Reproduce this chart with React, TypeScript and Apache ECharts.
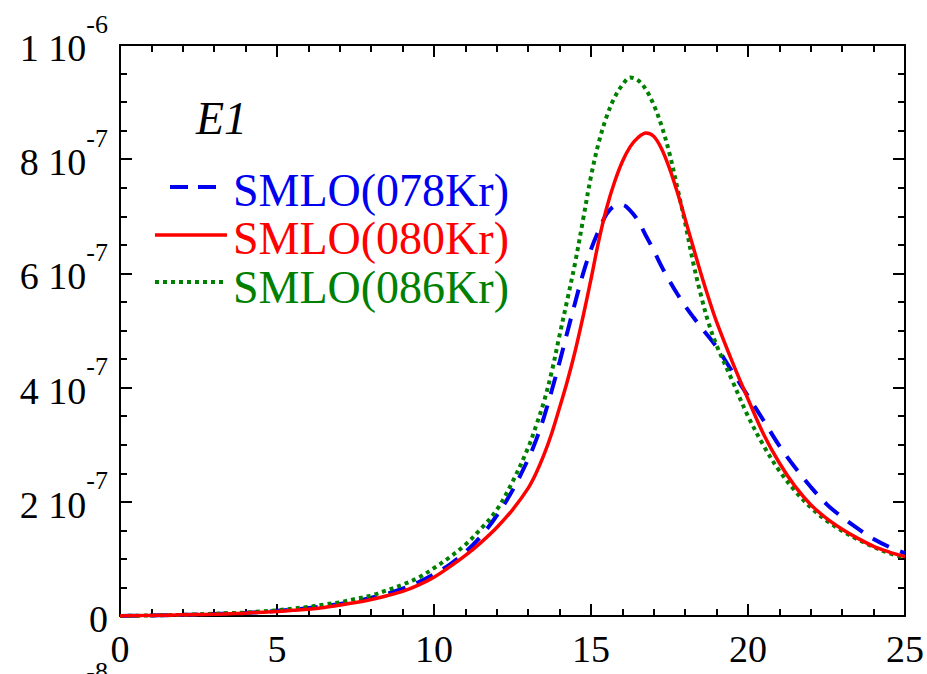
import React, { useEffect, useRef } from "react";
import * as echarts from "echarts";

// Photon energy (MeV)
const energies = [0, 0.5, 1, 1.5, 2, 2.5, 3, 3.5, 4, 4.5, 5, 5.5, 6, 6.5, 7, 7.5, 8, 8.5, 9, 9.5, 10, 10.5, 11, 11.5, 12, 12.5, 13,
  13.25, 13.5, 13.75, 14, 14.25, 14.5, 14.75, 15, 15.25, 15.5, 15.75, 16, 16.25, 16.5, 16.75, 17, 17.25, 17.5, 17.75, 18, 18.25, 18.5, 18.75, 19,
  19.5, 20, 20.5, 21, 21.5, 22, 22.5, 23, 23.5, 24, 24.5, 25];
// values in units of 1e-7
const smlo078Kr = [0, 0.005, 0.01, 0.015, 0.02, 0.028, 0.035, 0.045, 0.055, 0.07, 0.09, 0.11, 0.14, 0.17, 0.21, 0.26, 0.32, 0.39, 0.48, 0.59, 0.73,
  0.9, 1.12, 1.4, 1.76, 2.2, 2.75,
  3.08, 3.48, 3.95, 4.45, 4.98, 5.5, 6.0, 6.42, 6.76, 7.04, 7.18, 7.2, 7.1, 6.92, 6.66, 6.4, 6.12, 5.87, 5.64, 5.43, 5.24, 5.06, 4.89, 4.71,
  4.28, 3.85, 3.42, 2.98, 2.6, 2.26, 1.96, 1.73, 1.53, 1.35, 1.21, 1.1];
const smlo080Kr = [0, 0.005, 0.01, 0.015, 0.02, 0.025, 0.03, 0.04, 0.05, 0.065, 0.08, 0.1, 0.12, 0.15, 0.19, 0.235, 0.29, 0.355, 0.43, 0.54, 0.68,
  0.86, 1.06, 1.29, 1.55, 1.86, 2.24,
  2.5, 2.82, 3.2, 3.65, 4.12, 4.65, 5.25, 5.9, 6.58, 7.15, 7.6, 7.96, 8.22, 8.38, 8.46, 8.4, 8.18, 7.84, 7.42, 6.95, 6.47, 6.0, 5.56, 5.15,
  4.45, 3.8, 3.18, 2.68, 2.27, 1.95, 1.71, 1.52, 1.36, 1.22, 1.12, 1.04];
const smlo086Kr = [0, 0.005, 0.01, 0.015, 0.02, 0.03, 0.04, 0.05, 0.06, 0.08, 0.1, 0.13, 0.16, 0.2, 0.24, 0.3, 0.36, 0.45, 0.55, 0.67, 0.84,
  1.03, 1.25, 1.53, 1.86, 2.35, 2.95,
  3.33, 3.75, 4.28, 4.92, 5.55, 6.2, 6.95, 7.7, 8.3, 8.75, 9.08, 9.3, 9.43, 9.38, 9.22, 8.95, 8.58, 8.1, 7.5, 6.88, 6.2, 5.62, 5.12, 4.74,
  4.12, 3.5, 2.98, 2.54, 2.19, 1.9, 1.67, 1.49, 1.34, 1.21, 1.1, 1.02];

const xTicks = { min: 0, max: 25, interval: 5 };
const yTicks = { min: 0, max: 10, interval: 2 };

const FONT = "'Liberation Serif', 'Times New Roman', serif";
const BLUE = "#0000f0";
const RED = "#ff0000";
const GREEN = "#008000";

const rich = {
  m: { fontSize: 38, fontFamily: FONT, color: "#000", lineHeight: 56, verticalAlign: "bottom" as const },
  s: { fontSize: 26, fontFamily: FONT, color: "#000", lineHeight: 26, verticalAlign: "top" as const },
};

function yLabel(v: number): string {
  if (v === 0) return "{m|0}";
  if (v === 10) return "{m|1 10}{s|-6}";
  return `{m|${v} 10}{s|-7}`;
}

function zip(xs: number[], ys: number[]) {
  return xs.map((x, i) => [x, ys[i]]);
}

export default function App() {
  const ref = useRef<HTMLDivElement>(null);
  useEffect(() => {
    if (!ref.current) return;
    const chart = echarts.init(ref.current, null, { renderer: "svg" });
    const axisLine = { show: true, onZero: false, lineStyle: { color: "#000", width: 2 } };
    const tick = { show: true, inside: true, length: 12, lineStyle: { color: "#000", width: 2 } };
    const xMinor = { show: true, splitNumber: 5, length: 7, lineStyle: { color: "#000", width: 2 } };
    const yMinor = { show: true, splitNumber: 4, length: 7, lineStyle: { color: "#000", width: 2 } };
    chart.setOption({
      animation: false,
      backgroundColor: "#fff",
      grid: { left: 120, right: 22, top: 45, bottom: 58, containLabel: false },
      xAxis: [
        {
          type: "value", position: "bottom", ...xTicks,
          axisLine, axisTick: tick, minorTick: xMinor, splitLine: { show: false },
          axisLabel: { fontSize: 38, fontFamily: FONT, color: "#000", margin: 14 },
        },
        {
          type: "value", position: "top", ...xTicks,
          axisLine, axisTick: tick, minorTick: xMinor, splitLine: { show: false },
          axisLabel: { show: false },
        },
      ],
      yAxis: [
        {
          type: "value", position: "left", ...yTicks,
          axisLine, axisTick: tick, minorTick: yMinor, splitLine: { show: false },
          axisLabel: { formatter: yLabel, rich, margin: 12, padding: [0, 0, 12, 0] },
        },
        {
          type: "value", position: "right", ...yTicks,
          axisLine, axisTick: tick, minorTick: yMinor, splitLine: { show: false },
          axisLabel: { show: false },
        },
      ],
      series: [
        {
          name: "SMLO(078Kr)", type: "line", data: zip(energies, smlo078Kr), smooth: 0.35,
          showSymbol: false, lineStyle: { color: BLUE, width: 4, type: [18, 12] },
        },
        {
          name: "SMLO(086Kr)", type: "line", data: zip(energies, smlo086Kr), smooth: 0.35,
          showSymbol: false, lineStyle: { color: GREEN, width: 4, type: [4, 4] },
        },
        {
          name: "SMLO(080Kr)", type: "line", data: zip(energies, smlo080Kr), smooth: 0.35,
          showSymbol: false, lineStyle: { color: RED, width: 3.5 },
        },
      ],
      graphic: [
        {
          type: "text", x: 196, y: 118,
          style: { text: "E1", fontSize: 46, fontStyle: "italic", fontFamily: FONT, fill: "#000", verticalAlign: "middle" },
        },
        { type: "line", shape: { x1: 170, y1: 187, x2: 224, y2: 187 }, style: { stroke: BLUE, lineWidth: 4, lineDash: [18, 10] } },
        { type: "line", shape: { x1: 155, y1: 235, x2: 227, y2: 235 }, style: { stroke: RED, lineWidth: 3.5 } },
        { type: "line", shape: { x1: 155, y1: 282, x2: 227, y2: 282 }, style: { stroke: GREEN, lineWidth: 4, lineDash: [4, 4] } },
        { type: "text", x: 233, y: 190, style: { text: "SMLO(078Kr)", fontSize: 46, fontFamily: FONT, fill: BLUE, verticalAlign: "middle" } },
        { type: "text", x: 233, y: 238, style: { text: "SMLO(080Kr)", fontSize: 46, fontFamily: FONT, fill: RED, verticalAlign: "middle" } },
        { type: "text", x: 233, y: 287, style: { text: "SMLO(086Kr)", fontSize: 46, fontFamily: FONT, fill: GREEN, verticalAlign: "middle" } },
        {
          type: "text", x: 108, y: 686,
          style: { text: "{m|2 10}{s|-8}", rich, align: "right", verticalAlign: "middle" },
        },
      ],
    });
    return () => chart.dispose();
  }, []);
  return <div ref={ref} style={{ position: "fixed", left: 0, top: 0, width: 927, height: 674 }} />;
}
